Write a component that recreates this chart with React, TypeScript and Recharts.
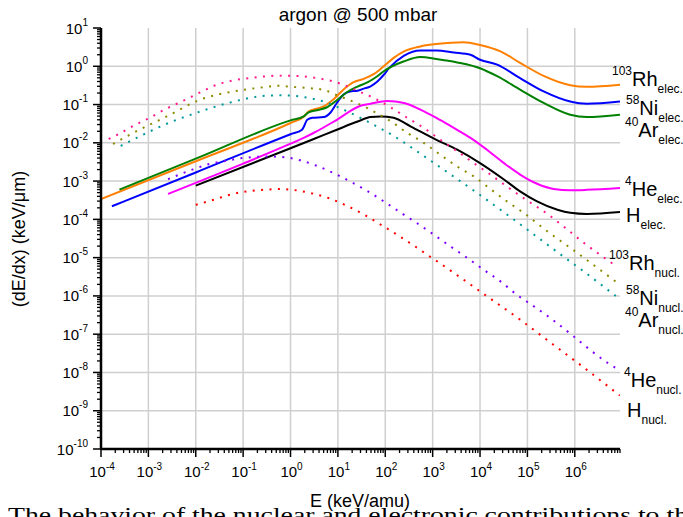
import React from 'react';
import { LineChart, Line, XAxis, YAxis, ReferenceLine } from 'recharts';

const FONT = '"Liberation Sans", Arial, Helvetica, sans-serif';

// [E (keV/amu), dE/dx (keV/um)]
const rhElec = [
  [1e-4, 3.4e-4], [1e-2, 3.3e-3], [1, 3.3e-2], [1.9, 4.8e-2], [2.4, 6.6e-2], [3.1, 7.4e-2], [5, 8.9e-2],
  [8, 0.135], [13, 0.245], [21, 0.38], [35, 0.47], [58, 0.63], [93, 1.0], [150, 1.66], [250, 2.45],
  [550, 3.3], [1200, 3.8], [4500, 4.27], [1e4, 3.6], [2.7e4, 2.45], [7e4, 1.23], [2.2e5, 0.56],
  [8e5, 0.32], [1.8e6, 0.29], [9e6, 0.33],
];
const niElec = [
  [1.7e-4, 2.2e-4], [1e-2, 1.68e-3], [1, 1.68e-2], [1.75, 2.2e-2], [1.9, 2.6e-2], [2.25, 4.0e-2],
  [2.9, 4.5e-2], [5, 4.7e-2], [7, 6.2e-2], [9.5, 0.11], [13, 0.18], [18, 0.22], [26, 0.23], [35, 0.26],
  [49, 0.3], [68, 0.4], [93, 0.6], [120, 0.89], [250, 1.9], [550, 2.6], [1200, 2.6], [2800, 2.3],
  [6300, 2.0], [1e4, 1.48], [2.3e4, 1.1], [7e4, 0.49], [2.2e5, 0.22], [8e5, 0.12], [1.8e6, 0.105], [9e6, 0.12],
];
const arElec = [
  [2.45e-4, 6.0e-4], [1e-2, 3.85e-3], [1, 3.85e-2], [1.9, 4.9e-2], [2.4, 6.2e-2], [3.6, 7.1e-2],
  [5.9, 8.5e-2], [9.5, 0.129], [15.5, 0.21], [26, 0.295], [42, 0.38], [68, 0.55], [93, 0.74], [250, 1.35],
  [550, 1.74], [1200, 1.55], [3300, 1.26], [1e4, 0.89], [2.3e4, 0.55], [7e4, 0.245], [2.2e5, 0.11],
  [8e5, 0.054], [1.8e6, 0.047], [9e6, 0.054],
];
const heElec = [
  [2.6e-3, 4.6e-4], [0.1, 2.85e-3], [1, 9.5e-3], [1.9, 1.35e-2], [3.2, 1.86e-2], [9.5, 4.0e-2], [30, 9.3e-2],
  [49, 0.105], [110, 0.123], [250, 0.11], [550, 7.4e-2], [1200, 4.5e-2], [2800, 2.45e-2], [6300, 1.35e-2],
  [1.4e4, 6.6e-3], [3.2e4, 2.95e-3], [7e4, 1.48e-3], [1.6e5, 8.5e-4], [3.6e5, 6.2e-4], [8e5, 5.75e-4],
  [1.8e6, 5.9e-4], [9e6, 6.6e-4],
];
const hElec = [
  [1e-2, 7.6e-4], [1, 7.2e-3], [3.1, 1.26e-2], [9.5, 2.2e-2], [26, 3.6e-2], [49, 4.7e-2], [80, 4.9e-2],
  [150, 4.5e-2], [340, 2.7e-2], [1200, 1.2e-2], [3300, 6.6e-3], [1e4, 2.95e-3], [3.2e4, 1.1e-3],
  [7e4, 5.4e-4], [1.6e5, 2.95e-4], [4.3e5, 1.78e-4], [8e5, 1.48e-4], [1.8e6, 1.38e-4], [9e6, 1.55e-4],
];

const rhNucl = [
  [1.45e-4, 1.26e-2], [2.2e-4, 1.62e-2], [4.9e-4, 2.8e-2], [1.1e-3, 4.6e-2], [2.45e-3, 7.9e-2],
  [5.5e-3, 0.126], [1.26e-2, 0.21], [2.8e-2, 0.33], [6.3e-2, 0.43], [0.14, 0.49], [0.32, 0.55], [0.72, 0.57],
  [1.6, 0.55], [3.6, 0.49], [8.1, 0.4], [13, 0.33], [28, 0.22], [62, 0.141], [138, 8.1e-2], [290, 4.5e-2],
  [650, 2.45e-2], [1450, 1.2e-2], [3300, 6.0e-3], [7400, 2.95e-3], [1.66e4, 1.48e-3], [3.7e4, 7.2e-4],
  [8.3e4, 3.6e-4], [2.8e5, 1.32e-4], [6.3e5, 6.0e-5], [1.45e6, 2.6e-5], [3.2e6, 1.26e-5], [7.2e6, 6.2e-6],
];
const niNucl = [
  [1.8e-4, 9.3e-3], [4e-4, 1.62e-2], [2.45e-3, 4.9e-2], [1.26e-2, 0.135], [6.3e-2, 0.22], [0.32, 0.29],
  [0.5, 0.31], [1.07, 0.29], [2.4, 0.27], [5.5, 0.235], [8.1, 0.19], [18, 0.129], [42, 8.1e-2], [62, 6.2e-2],
  [138, 3.5e-2], [290, 1.82e-2], [650, 1.0e-2], [1450, 4.9e-3], [3300, 2.4e-3], [7400, 1.32e-3],
  [1.66e4, 6.2e-4], [3.7e4, 2.95e-4], [8.3e4, 1.48e-4], [2.8e5, 4.6e-5], [9.5e5, 1.55e-5], [4.8e6, 3.5e-6],
  [7.2e6, 2.4e-6],
];
const arNucl = [
  [2.6e-4, 8.3e-3], [1e-3, 1.9e-2], [3e-3, 3.5e-2], [1e-2, 6.0e-2], [4.9e-2, 0.11], [0.32, 0.17],
  [0.72, 0.174], [1.6, 0.162], [4.3, 0.126], [14, 7.1e-2], [31, 4.4e-2], [69, 2.6e-2], [155, 1.48e-2],
  [800, 3.8e-3], [3900, 9.8e-4], [8700, 4.9e-4], [3e4, 1.62e-4], [6.6e4, 7.9e-5], [1.5e5, 3.7e-5],
  [3.3e5, 1.78e-5], [7.4e5, 8.5e-6], [1.7e6, 4.0e-6], [3.8e6, 1.86e-6], [8.5e6, 8.7e-7],
];
const heNucl = [
  [2.6e-3, 1.12e-3], [3.9e-3, 1.38e-3], [8.5e-3, 2.0e-3], [1.95e-2, 2.8e-3], [4.4e-2, 3.4e-3],
  [9.8e-2, 4.0e-3], [0.32, 4.4e-3], [0.74, 4.2e-3], [1.6, 3.5e-3], [3.6, 2.5e-3], [8.1, 1.62e-3],
  [18, 9.8e-4], [42, 5.5e-4], [93, 2.95e-4], [210, 1.51e-4], [470, 7.9e-5], [1050, 4.0e-5], [2400, 1.95e-5],
  [5400, 9.8e-6], [1.2e4, 4.8e-6], [2.7e4, 2.4e-6], [6e4, 1.07e-6], [1.35e5, 5.4e-7], [3.1e5, 2.6e-7],
  [9.5e5, 8.7e-8], [2.1e6, 3.9e-8], [4.8e6, 1.82e-8], [7.9e6, 1.23e-8],
];
const hNucl = [
  [1e-2, 2.4e-4], [2.3e-2, 3.2e-4], [5.2e-2, 4.4e-4], [0.12, 5.4e-4], [0.26, 5.9e-4], [0.59, 6.2e-4],
  [1.3, 5.75e-4], [3.0, 4.7e-4], [6.8, 3.5e-4], [15, 2.3e-4], [34, 1.38e-4], [72, 7.9e-5], [160, 4.3e-5],
  [370, 2.2e-5], [830, 1.12e-5], [2800, 4.0e-6], [1.4e4, 9.8e-7], [7e4, 2.4e-7], [3.6e5, 5.2e-8],
  [1.8e6, 1.17e-8], [8.9e6, 2.5e-9],
];

const xDecades = [-4, -3, -2, -1, 0, 1, 2, 3, 4, 5, 6];
const yDecades = [-10, -9, -8, -7, -6, -5, -4, -3, -2, -1, 0, 1];
const minorSteps = [1, 2, 3, 4, 5, 6, 7, 8, 9];

const xTicks = xDecades.flatMap((d) => minorSteps.map((m) => m * 10 ** d));
const yTicks = yDecades.flatMap((d) => (d === 1 ? [10] : minorSteps.map((m) => m * 10 ** d)));

const series = [
  { name: 'Rh elec', data: rhElec, color: '#ff8000', dotted: false },
  { name: 'Ni elec', data: niElec, color: '#0000ff', dotted: false },
  { name: 'Ar elec', data: arElec, color: '#008000', dotted: false },
  { name: 'He elec', data: heElec, color: '#ff00ff', dotted: false },
  { name: 'H elec', data: hElec, color: '#000000', dotted: false },
  { name: 'Rh nucl', data: rhNucl, color: '#ff1a8c', dotted: true },
  { name: 'Ni nucl', data: niNucl, color: '#8b8b00', dotted: true },
  { name: 'Ar nucl', data: arNucl, color: '#009999', dotted: true },
  { name: 'He nucl', data: heNucl, color: '#8000ff', dotted: true },
  { name: 'H nucl', data: hNucl, color: '#ff0000', dotted: true },
];

const labels = [
  { sup: '103', main: 'Rh', sub: 'elec.', x: 612, y: 86 },
  { sup: '58', main: 'Ni', sub: 'elec.', x: 626, y: 115 },
  { sup: '40', main: 'Ar', sub: 'elec.', x: 625, y: 136.5 },
  { sup: '4', main: 'He', sub: 'elec.', x: 625, y: 195.5 },
  { sup: '', main: 'H', sub: 'elec.', x: 626, y: 221.5 },
  { sup: '103', main: 'Rh', sub: 'nucl.', x: 609, y: 270 },
  { sup: '58', main: 'Ni', sub: 'nucl.', x: 626, y: 305 },
  { sup: '40', main: 'Ar', sub: 'nucl.', x: 625, y: 326.5 },
  { sup: '4', main: 'He', sub: 'nucl.', x: 624, y: 386.5 },
  { sup: '', main: 'H', sub: 'nucl.', x: 627, y: 416.5 },
];

const isMajor = (v: number) => {
  const lg = Math.log10(v);
  return Math.abs(lg - Math.round(lg)) < 1e-6;
};

const XTick = (props: any) => {
  const { x, y, payload } = props;
  const v = payload.value;
  if (!isMajor(v)) return <line x1={x} x2={x} y1={y} y2={y + 4} stroke="#000" strokeWidth={1.3} />;
  return (
    <g>
      <line x1={x} x2={x} y1={y} y2={y + 8} stroke="#000" strokeWidth={1.5} />
      <text x={x + 1} y={y + 28} textAnchor="middle" fontFamily={FONT} fontSize={15} fill="#000">
        10<tspan dy={-7} fontSize={10}>{Math.round(Math.log10(v))}</tspan>
      </text>
    </g>
  );
};

const YTick = (props: any) => {
  const { x, y, payload } = props;
  const v = payload.value;
  if (!isMajor(v)) return <line x1={x - 4} x2={x} y1={y} y2={y} stroke="#000" strokeWidth={1.3} />;
  return (
    <g>
      <line x1={x - 8} x2={x} y1={y} y2={y} stroke="#000" strokeWidth={1.5} />
      <text x={x - 13} y={y + 5.5} textAnchor="end" fontFamily={FONT} fontSize={15} fill="#000">
        10<tspan dy={-8} fontSize={10}>{Math.round(Math.log10(v))}</tspan>
      </text>
    </g>
  );
};

const toPts = (arr: number[][]) => arr.map(([e, s]) => ({ e, s }));

export default function App() {
  return (
    <div style={{ position: 'absolute', left: 0, top: 0, width: 683, height: 517, overflow: 'hidden', background: '#fff' }}>
      <svg width={683} height={517} style={{ position: 'absolute', left: 0, top: 0 }}>
        <text x={8} y={522} fontFamily='"Liberation Serif", "DejaVu Serif", serif' fontSize={21} fill="#000"
          textLength={680} lengthAdjust="spacingAndGlyphs">
          The behavior of the nuclear and electronic contributions to th
        </text>
      </svg>
      <div style={{ position: 'absolute', left: 0, top: 0 }}>
        <LineChart width={683} height={517} margin={{ top: 28, right: 63, bottom: 0, left: 0 }}>
          {xDecades.slice(1).map((d) => (
            <ReferenceLine key={'gx' + d} x={10 ** d} stroke="#cfcfcf" strokeWidth={1.5} />
          ))}
          {yDecades.slice(1, -1).map((d) => (
            <ReferenceLine key={'gy' + d} y={10 ** d} stroke="#cfcfcf" strokeWidth={1.5} />
          ))}
          <XAxis dataKey="e" type="number" scale="log" domain={[1e-4, 9e6]} allowDataOverflow ticks={xTicks}
            interval={0} tickLine={false} tickSize={0} tickMargin={0} height={68}
            axisLine={{ stroke: '#000', strokeWidth: 2.5 }} tick={<XTick />} />
          <YAxis dataKey="s" type="number" scale="log" domain={[1e-10, 10]} allowDataOverflow ticks={yTicks}
            interval={0} tickLine={false} tickSize={0} tickMargin={0} width={101}
            axisLine={{ stroke: '#000', strokeWidth: 2.5 }} tick={<YTick />} />
          {series.map((sr) => (
            <Line key={sr.name} data={toPts(sr.data)} dataKey="s" type="monotone" stroke={sr.color}
              strokeWidth={2} strokeDasharray={sr.dotted ? '2 6.4' : undefined} dot={false}
              activeDot={false} isAnimationActive={false} />
          ))}
        </LineChart>
      </div>
      <svg width={683} height={517} style={{ position: 'absolute', left: 0, top: 0, pointerEvents: 'none' }}>
        <text x={358} y={20.5} textAnchor="middle" fontFamily={FONT} fontSize={19} fill="#000">argon @ 500 mbar</text>
        <text x={360} y={507} textAnchor="middle" fontFamily={FONT} fontSize={18} fill="#000">E (keV/amu)</text>
        <text transform="translate(25,239) rotate(-90)" textAnchor="middle" fontFamily={FONT} fontSize={18} fill="#000">
          (dE/dx) (keV/μm)
        </text>
        {labels.map((l) => (
          <text key={l.main + l.sub} x={l.x} y={l.y} fontFamily={FONT} fill="#000">
            {l.sup ? <tspan fontSize={12} dy={-11}>{l.sup}</tspan> : null}
            <tspan fontSize={20} dy={l.sup ? 11 : 0}>{l.main}</tspan>
            <tspan fontSize={12} dy={7}>{l.sub}</tspan>
          </text>
        ))}
      </svg>
    </div>
  );
}
